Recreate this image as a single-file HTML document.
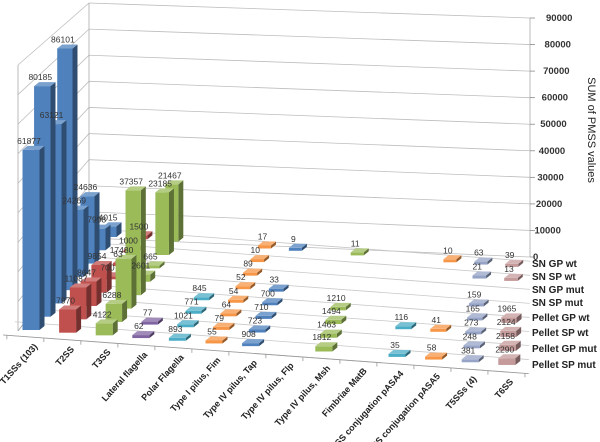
<!DOCTYPE html>
<html><head><meta charset="utf-8"><style>
html,body{margin:0;padding:0;background:#fff;}
svg{display:block;font-family:"Liberation Sans",sans-serif;}
</style></head><body>
<svg id="chart" width="600" height="442" viewBox="0 0 600 442" xmlns="http://www.w3.org/2000/svg">
<g id="grid"></g>
<g id="bars"></g>
<g id="labels"></g>
<g id="axes"></g>
<text transform="translate(588,130) rotate(90)" text-anchor="middle" font-size="11" fill="#222">SUM of PMSS values</text>
</svg>
<script>
const categories = ["T1SSs (103)","T2SS","T3SS","Lateral flagella","Polar Flagella","Type I pilus, Fim","Type IV pilus, Tap","Type IV pilus, Flp","Type IV pilus, Msh","Fimbriae MatB","T4SS conjugation pASA4","T4SS conjugation pASA5","T5SSs (4)","T6SS"];
const seriesNames = ["SN GP wt","SN SP wt","SN GP mut","SN SP mut","Pellet GP wt","Pellet SP wt","Pellet GP mut","Pellet SP mut"];
// values per category, rows back (SN GP wt) -> front (Pellet SP mut)
const t1ss = [4015,7998,24636,24269,86101,63121,80185,61877];
const t2ss = [1500,1000,63,700,9854,8647,11087,7970];
const t3ss = [21467,23185,665,2601,37357,17480,6288,4122];
const lateral = [0,0,0,0,0,0,77,62];
const polar = [0,0,0,0,845,771,1021,893];
const fim = [17,10,89,52,54,64,79,55];
const tap = [9,0,0,33,700,710,723,908];
const flp = [0,0,0,0,0,0,0,0];
const msh = [11,0,0,0,1210,1494,1463,1812];
const matb = [0,0,0,0,0,0,0,0];
const pasa4 = [0,0,0,0,0,116,0,35];
const pasa5 = [10,0,0,0,0,41,0,58];
const t5ss = [63,21,0,159,165,273,248,381];
const t6ss = [39,13,0,0,1965,2124,2158,2290];
const yTicks = [0,10000,20000,30000,40000,50000,60000,70000,80000,90000];
const dataCols = [t1ss,t2ss,t3ss,lateral,polar,fim,tap,flp,msh,matb,pasa4,pasa5,t5ss,t6ss];
const colors = ['#4F81BD','#C0504D','#9BBB59','#8064A2','#4BACC6','#F79646','#4F81BD','#C0504D','#9BBB59','#8064A2','#4BACC6','#F79646','#95A3C6','#C49A9A'];
const NS="http://www.w3.org/2000/svg";
function lerp(a,b,t){return a+(b-a)*t;}
function P(i,r,v){const t=r/7;const xc=lerp(110+30.9*i,31+36.6*i,t);const yb=lerp(237+2.3*i,330+2.69*i,t);const k=lerp(240,262,t)/90000;return [xc,yb-v*k];}
function mk(tag,attrs,parent){const e=document.createElementNS(NS,tag);for(const a in attrs)e.setAttribute(a,attrs[a]);parent.appendChild(e);return e;}
function shade(hex,f){const n=parseInt(hex.slice(1),16);let r=n>>16,g=(n>>8)&255,b=n&255;const c=x=>Math.max(0,Math.min(255,Math.round(f>1?x+(255-x)*(f-1):x*f)));return 'rgb('+c(r)+','+c(g)+','+c(b)+')';}
const grid=document.getElementById('grid'),bars=document.getElementById('bars'),labels=document.getElementById('labels'),axes=document.getElementById('axes');
const yL=v=>238-235*v/90000, yR=v=>257-239*v/90000, yF=v=>331-266*v/90000;
yTicks.forEach(v=>{
 const l=mk('line',{x1:89,y1:yL(v),x2:530,y2:yR(v),stroke:'#bdbdbd','stroke-width':0.8},grid);
 
 const l2=mk('line',{x1:18,y1:yF(v),x2:89,y2:yL(v),stroke:'#bdbdbd','stroke-width':0.8},grid);
 
 const tk=mk('line',{x1:530,y1:yR(v),x2:535,y2:yR(v),stroke:'#888','stroke-width':0.8},axes);
 
 const tx=mk('text',{x:533+13*v/90000,y:yR(v)+3,'font-size':9.5,'font-weight':'bold',fill:'#333'},axes);
 
 tx.textContent=v;
});
[[18,65,18,331],[89,3,89,238],[530,18,530,257],[18,331,89,238]].forEach(c=>{mk('line',{x1:c[0],y1:c[1],x2:c[2],y2:c[3],stroke:'#aaa','stroke-width':0.8},grid);});
for(let r=-0.5;r<=7.5;r+=1){const a=P(-0.6,r,0),b=P(13.6,r,0);
 const l=mk('line',{x1:a[0],y1:a[1],x2:b[0],y2:b[1],stroke:'#c8c8c8','stroke-width':0.8},grid);
 }
{const a=P(-0.6,7.5,0),b=P(13.6,7.5,0);mk('line',{x1:a[0],y1:a[1],x2:b[0],y2:b[1],stroke:'#999','stroke-width':0.8},axes);
 for(let i=-0.5;i<=13.5;i++){const p=P(i,7.5,0);mk('line',{x1:p[0],y1:p[1],x2:p[0],y2:p[1]+4,stroke:'#999','stroke-width':0.8},axes);}}
for(let r=0;r<8;r++){for(let i=0;i<14;i++){
 const v=dataCols[i][r]; if(!v) continue;
 const t=r/7, w=lerp(6.5,8.5,t), dx=5, dy=-4;
 const b=P(i,r,0), tp=P(i,r,v); let top=Math.min(tp[1],b[1]-3);
 const x0=b[0]-w,x1=b[0]+w,yb=b[1];
 const g=mk('g',{},bars);
 
 
 const c=colors[i];
 mk('polygon',{points:`${x1},${top} ${x1+dx},${top+dy} ${x1+dx},${yb+dy} ${x1},${yb}`,fill:shade(c,0.6)},g);
 mk('rect',{x:x0,y:top,width:x1-x0,height:yb-top,fill:c},g);
 mk('polygon',{points:`${x0},${top} ${x1},${top} ${x1+dx},${top+dy} ${x0+dx},${top+dy}`,fill:shade(c,1.25)},g);
 const tx=mk('text',{x:b[0]-2,y:top-6,'font-size':8.5,'text-anchor':'middle',fill:'#333'},labels);
 
 tx.textContent=v;
}}
const sy=[263,276,289,302,317,332,348,364];
seriesNames.forEach((s,k)=>{const tx=mk('text',{x:532,y:sy[k]+4,'font-size':10,'font-weight':'bold',fill:'#222'},axes);
 tx.textContent=s;});
categories.forEach((c,i)=>{const x=31+36.6*i+7,y=347+2.7*i;
 const tx=mk('text',{x:x,y:y,'font-size':9,'font-weight':'bold','text-anchor':'end',fill:'#222',transform:`rotate(-48 ${x} ${y})`},axes);
 tx.textContent=c;});
</script>
</body></html>
